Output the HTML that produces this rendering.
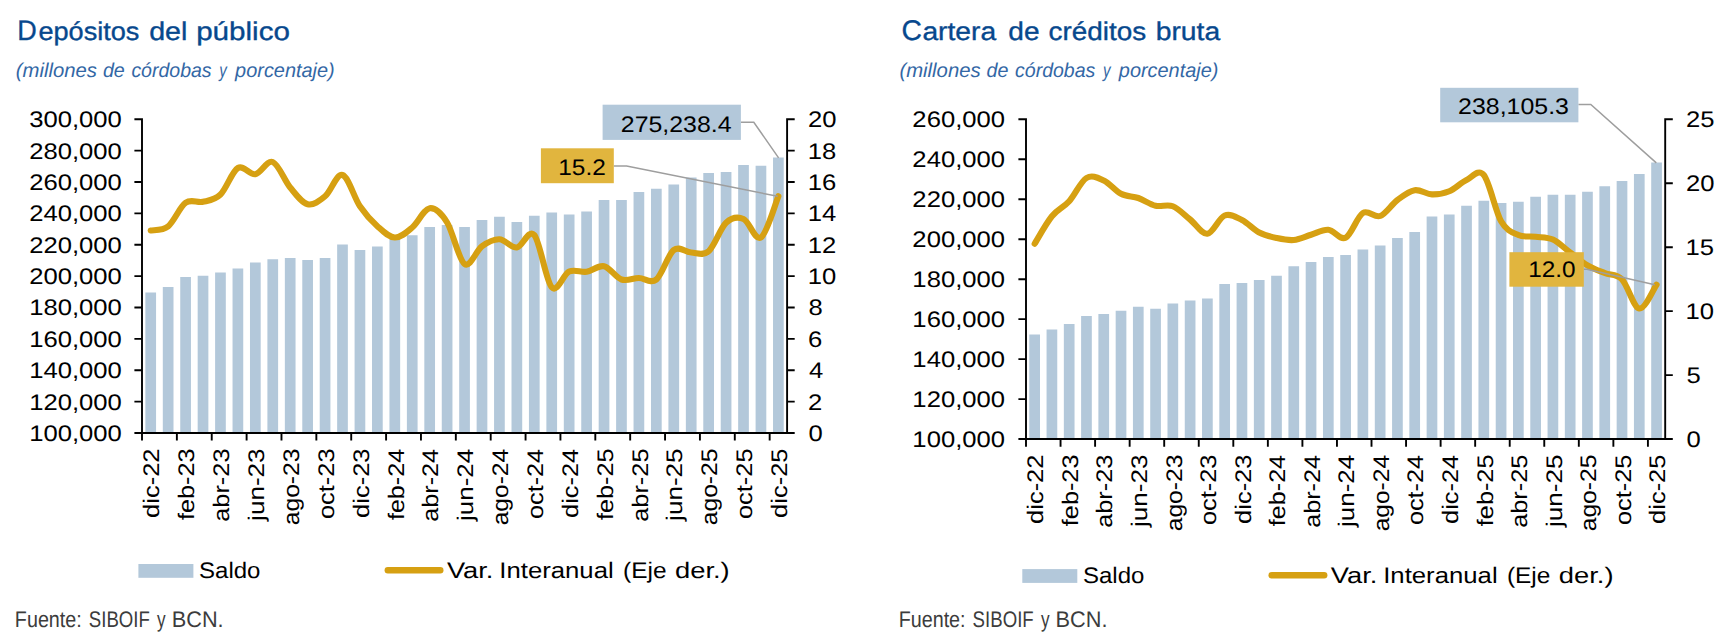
<!DOCTYPE html>
<html lang="es"><head><meta charset="utf-8"><title>Depósitos y cartera</title>
<style>html,body{margin:0;padding:0;background:#fff}svg{display:block}text{font-family:"Liberation Sans",sans-serif;text-rendering:geometricPrecision}</style></head>
<body>
<svg width="1727" height="641" viewBox="0 0 1727 641" font-family='"Liberation Sans", sans-serif'>
<rect width="1727" height="641" fill="#fff"/>
<text x="17.34" y="39.70" font-size="28.5" fill="#07488d" textLength="19.49" lengthAdjust="spacingAndGlyphs" stroke="#07488d" stroke-width="0.35">D</text>
<text x="38.45" y="39.70" font-size="25.5" fill="#07488d" textLength="100.99" lengthAdjust="spacingAndGlyphs" stroke="#07488d" stroke-width="0.35">epósitos</text>
<text x="149.21" y="39.70" font-size="25.5" fill="#07488d" textLength="38.18" lengthAdjust="spacingAndGlyphs" stroke="#07488d" stroke-width="0.35">del</text>
<text x="196.15" y="39.70" font-size="25.5" fill="#07488d" textLength="93.75" lengthAdjust="spacingAndGlyphs" stroke="#07488d" stroke-width="0.35">público</text>
<text x="901.38" y="39.70" font-size="28.5" fill="#07488d" textLength="20.40" lengthAdjust="spacingAndGlyphs" stroke="#07488d" stroke-width="0.35">C</text>
<text x="922.42" y="39.70" font-size="25.5" fill="#07488d" textLength="73.80" lengthAdjust="spacingAndGlyphs" stroke="#07488d" stroke-width="0.35">artera</text>
<text x="1008.32" y="39.70" font-size="25.5" fill="#07488d" textLength="31.21" lengthAdjust="spacingAndGlyphs" stroke="#07488d" stroke-width="0.35">de</text>
<text x="1048.63" y="39.70" font-size="25.5" fill="#07488d" textLength="97.64" lengthAdjust="spacingAndGlyphs" stroke="#07488d" stroke-width="0.35">créditos</text>
<text x="1155.73" y="39.70" font-size="25.5" fill="#07488d" textLength="64.49" lengthAdjust="spacingAndGlyphs" stroke="#07488d" stroke-width="0.35">bruta</text>
<text x="15.75" y="76.70" font-size="20.0" fill="#3367a5" textLength="81.17" lengthAdjust="spacingAndGlyphs" font-style="italic">(millones</text>
<text x="102.88" y="76.70" font-size="20.0" fill="#3367a5" textLength="21.91" lengthAdjust="spacingAndGlyphs" font-style="italic">de</text>
<text x="131.39" y="76.70" font-size="20.0" fill="#3367a5" textLength="80.21" lengthAdjust="spacingAndGlyphs" font-style="italic">córdobas</text>
<text x="219.24" y="76.70" font-size="20.0" fill="#3367a5" textLength="7.52" lengthAdjust="spacingAndGlyphs" font-style="italic">y</text>
<text x="235.12" y="76.70" font-size="20.0" fill="#3367a5" textLength="99.61" lengthAdjust="spacingAndGlyphs" font-style="italic">porcentaje)</text>
<text x="899.45" y="76.70" font-size="20.0" fill="#3367a5" textLength="81.17" lengthAdjust="spacingAndGlyphs" font-style="italic">(millones</text>
<text x="986.58" y="76.70" font-size="20.0" fill="#3367a5" textLength="21.91" lengthAdjust="spacingAndGlyphs" font-style="italic">de</text>
<text x="1015.09" y="76.70" font-size="20.0" fill="#3367a5" textLength="80.21" lengthAdjust="spacingAndGlyphs" font-style="italic">córdobas</text>
<text x="1102.94" y="76.70" font-size="20.0" fill="#3367a5" textLength="7.52" lengthAdjust="spacingAndGlyphs" font-style="italic">y</text>
<text x="1118.82" y="76.70" font-size="20.0" fill="#3367a5" textLength="99.61" lengthAdjust="spacingAndGlyphs" font-style="italic">porcentaje)</text>
<path d="M145.37,433.00V292.50h10.7V433.00zM162.80,433.00V287.00h10.7V433.00zM180.24,433.00V277.00h10.7V433.00zM197.67,433.00V275.75h10.7V433.00zM215.11,433.00V272.50h10.7V433.00zM232.54,433.00V268.50h10.7V433.00zM249.98,433.00V262.50h10.7V433.00zM267.41,433.00V259.25h10.7V433.00zM284.85,433.00V258.00h10.7V433.00zM302.28,433.00V260.00h10.7V433.00zM319.72,433.00V258.00h10.7V433.00zM337.15,433.00V244.50h10.7V433.00zM354.59,433.00V250.00h10.7V433.00zM372.02,433.00V246.50h10.7V433.00zM389.46,433.00V238.00h10.7V433.00zM406.89,433.00V235.25h10.7V433.00zM424.33,433.00V227.00h10.7V433.00zM441.76,433.00V225.00h10.7V433.00zM459.20,433.00V227.00h10.7V433.00zM476.64,433.00V220.00h10.7V433.00zM494.07,433.00V216.75h10.7V433.00zM511.51,433.00V222.00h10.7V433.00zM528.94,433.00V215.75h10.7V433.00zM546.38,433.00V212.50h10.7V433.00zM563.81,433.00V214.50h10.7V433.00zM581.25,433.00V211.50h10.7V433.00zM598.68,433.00V200.00h10.7V433.00zM616.12,433.00V200.00h10.7V433.00zM633.55,433.00V192.00h10.7V433.00zM650.99,433.00V188.75h10.7V433.00zM668.42,433.00V184.50h10.7V433.00zM685.86,433.00V177.50h10.7V433.00zM703.29,433.00V173.00h10.7V433.00zM720.73,433.00V172.00h10.7V433.00zM738.16,433.00V165.00h10.7V433.00zM755.60,433.00V165.75h10.7V433.00zM773.03,433.00V157.50h10.7V433.00z" fill="#b3c8da"/>
<path d="M142.00,118.35V440.60M787.10,118.35V433.95M134.40,433.00H794.70M134.40,119.30H142.00M134.40,150.67H142.00M134.40,182.04H142.00M134.40,213.41H142.00M134.40,244.78H142.00M134.40,276.15H142.00M134.40,307.52H142.00M134.40,338.89H142.00M134.40,370.26H142.00M134.40,401.63H142.00M787.10,119.30H794.70M787.10,150.67H794.70M787.10,182.04H794.70M787.10,213.41H794.70M787.10,244.78H794.70M787.10,276.15H794.70M787.10,307.52H794.70M787.10,338.89H794.70M787.10,370.26H794.70M787.10,401.63H794.70M176.87,433.00V440.60M211.74,433.00V440.60M246.61,433.00V440.60M281.48,433.00V440.60M316.35,433.00V440.60M351.22,433.00V440.60M386.09,433.00V440.60M420.96,433.00V440.60M455.83,433.00V440.60M490.70,433.00V440.60M525.57,433.00V440.60M560.44,433.00V440.60M595.31,433.00V440.60M630.18,433.00V440.60M665.05,433.00V440.60M699.92,433.00V440.60M734.79,433.00V440.60M769.66,433.00V440.60" stroke="#000" stroke-width="1.9" fill="none"/>
<text x="29.19" y="127.20" font-size="22.5" fill="#000" textLength="92.65" lengthAdjust="spacingAndGlyphs">300,000</text>
<text x="29.19" y="158.57" font-size="22.5" fill="#000" textLength="92.65" lengthAdjust="spacingAndGlyphs">280,000</text>
<text x="29.19" y="189.94" font-size="22.5" fill="#000" textLength="92.65" lengthAdjust="spacingAndGlyphs">260,000</text>
<text x="29.19" y="221.31" font-size="22.5" fill="#000" textLength="92.65" lengthAdjust="spacingAndGlyphs">240,000</text>
<text x="29.19" y="252.68" font-size="22.5" fill="#000" textLength="92.65" lengthAdjust="spacingAndGlyphs">220,000</text>
<text x="29.19" y="284.05" font-size="22.5" fill="#000" textLength="92.65" lengthAdjust="spacingAndGlyphs">200,000</text>
<text x="29.19" y="315.42" font-size="22.5" fill="#000" textLength="92.65" lengthAdjust="spacingAndGlyphs">180,000</text>
<text x="29.19" y="346.79" font-size="22.5" fill="#000" textLength="92.65" lengthAdjust="spacingAndGlyphs">160,000</text>
<text x="29.19" y="378.16" font-size="22.5" fill="#000" textLength="92.65" lengthAdjust="spacingAndGlyphs">140,000</text>
<text x="29.19" y="409.53" font-size="22.5" fill="#000" textLength="92.65" lengthAdjust="spacingAndGlyphs">120,000</text>
<text x="29.19" y="440.90" font-size="22.5" fill="#000" textLength="92.65" lengthAdjust="spacingAndGlyphs">100,000</text>
<text x="808.10" y="127.20" font-size="22.5" fill="#000" textLength="28.51" lengthAdjust="spacingAndGlyphs">20</text>
<text x="807.70" y="158.57" font-size="22.5" fill="#000" textLength="28.51" lengthAdjust="spacingAndGlyphs">18</text>
<text x="807.70" y="189.94" font-size="22.5" fill="#000" textLength="28.51" lengthAdjust="spacingAndGlyphs">16</text>
<text x="807.70" y="221.31" font-size="22.5" fill="#000" textLength="28.51" lengthAdjust="spacingAndGlyphs">14</text>
<text x="807.70" y="252.68" font-size="22.5" fill="#000" textLength="28.51" lengthAdjust="spacingAndGlyphs">12</text>
<text x="807.70" y="284.05" font-size="22.5" fill="#000" textLength="28.51" lengthAdjust="spacingAndGlyphs">10</text>
<text x="808.50" y="315.42" font-size="22.5" fill="#000" textLength="14.25" lengthAdjust="spacingAndGlyphs">8</text>
<text x="808.10" y="346.79" font-size="22.5" fill="#000" textLength="14.25" lengthAdjust="spacingAndGlyphs">6</text>
<text x="808.90" y="378.16" font-size="22.5" fill="#000" textLength="14.25" lengthAdjust="spacingAndGlyphs">4</text>
<text x="808.10" y="409.53" font-size="22.5" fill="#000" textLength="14.25" lengthAdjust="spacingAndGlyphs">2</text>
<text x="808.50" y="440.90" font-size="22.5" fill="#000" textLength="14.25" lengthAdjust="spacingAndGlyphs">0</text>
<text transform="translate(159.42,517.90) rotate(-90)" font-size="22.5" fill="#000" textLength="69.43" lengthAdjust="spacingAndGlyphs">dic-22</text>
<text transform="translate(194.29,520.10) rotate(-90)" font-size="22.5" fill="#000" textLength="71.62" lengthAdjust="spacingAndGlyphs">feb-23</text>
<text transform="translate(229.16,521.79) rotate(-90)" font-size="22.5" fill="#000" textLength="73.32" lengthAdjust="spacingAndGlyphs">abr-23</text>
<text transform="translate(264.03,520.89) rotate(-90)" font-size="22.5" fill="#000" textLength="72.44" lengthAdjust="spacingAndGlyphs">jun-23</text>
<text transform="translate(298.90,525.27) rotate(-90)" font-size="22.5" fill="#000" textLength="76.77" lengthAdjust="spacingAndGlyphs">ago-23</text>
<text transform="translate(333.77,518.99) rotate(-90)" font-size="22.5" fill="#000" textLength="70.52" lengthAdjust="spacingAndGlyphs">oct-23</text>
<text transform="translate(368.64,517.90) rotate(-90)" font-size="22.5" fill="#000" textLength="69.43" lengthAdjust="spacingAndGlyphs">dic-23</text>
<text transform="translate(403.51,520.10) rotate(-90)" font-size="22.5" fill="#000" textLength="71.23" lengthAdjust="spacingAndGlyphs">feb-24</text>
<text transform="translate(438.38,521.79) rotate(-90)" font-size="22.5" fill="#000" textLength="72.92" lengthAdjust="spacingAndGlyphs">abr-24</text>
<text transform="translate(473.25,520.89) rotate(-90)" font-size="22.5" fill="#000" textLength="72.04" lengthAdjust="spacingAndGlyphs">jun-24</text>
<text transform="translate(508.12,525.27) rotate(-90)" font-size="22.5" fill="#000" textLength="76.38" lengthAdjust="spacingAndGlyphs">ago-24</text>
<text transform="translate(542.99,518.99) rotate(-90)" font-size="22.5" fill="#000" textLength="70.12" lengthAdjust="spacingAndGlyphs">oct-24</text>
<text transform="translate(577.86,517.89) rotate(-90)" font-size="22.5" fill="#000" textLength="69.02" lengthAdjust="spacingAndGlyphs">dic-24</text>
<text transform="translate(612.73,520.10) rotate(-90)" font-size="22.5" fill="#000" textLength="71.62" lengthAdjust="spacingAndGlyphs">feb-25</text>
<text transform="translate(647.60,521.79) rotate(-90)" font-size="22.5" fill="#000" textLength="73.32" lengthAdjust="spacingAndGlyphs">abr-25</text>
<text transform="translate(682.47,520.89) rotate(-90)" font-size="22.5" fill="#000" textLength="72.44" lengthAdjust="spacingAndGlyphs">jun-25</text>
<text transform="translate(717.34,525.27) rotate(-90)" font-size="22.5" fill="#000" textLength="76.77" lengthAdjust="spacingAndGlyphs">ago-25</text>
<text transform="translate(752.21,518.99) rotate(-90)" font-size="22.5" fill="#000" textLength="70.52" lengthAdjust="spacingAndGlyphs">oct-25</text>
<text transform="translate(787.08,517.90) rotate(-90)" font-size="22.5" fill="#000" textLength="69.43" lengthAdjust="spacingAndGlyphs">dic-25</text>
<path d="M740.9,122.2H753.8L778.6,157.9" stroke="#9e9e9e" stroke-width="1.5" fill="none"/>
<rect x="602.6" y="104.7" width="138.3" height="35.2" fill="#b3c8da"/>
<text x="620.83" y="131.60" font-size="22.5" fill="#000" textLength="110.69" lengthAdjust="spacingAndGlyphs">275,238.4</text>
<path d="M150.72,230.50C153.62,229.80 162.34,230.92 168.15,226.30C173.96,221.68 179.78,206.88 185.59,202.80C191.40,198.72 197.21,203.18 203.02,201.80C208.83,200.42 214.65,200.13 220.46,194.50C226.27,188.87 232.08,171.38 237.89,168.00C243.70,164.62 249.52,175.25 255.33,174.25C261.14,173.25 266.95,159.79 272.76,162.00C278.58,164.21 284.39,180.46 290.20,187.50C296.01,194.54 301.82,202.79 307.63,204.25C313.45,205.71 319.26,201.12 325.07,196.25C330.88,191.38 336.69,173.33 342.50,175.00C348.32,176.67 354.13,197.71 359.94,206.25C365.75,214.79 371.56,221.04 377.37,226.25C383.19,231.46 389.00,237.29 394.81,237.50C400.62,237.71 406.43,232.38 412.24,227.50C418.06,222.62 423.87,209.08 429.68,208.25C435.49,207.42 441.30,213.21 447.11,222.50C452.93,231.79 458.74,260.04 464.55,264.00C470.36,267.96 476.17,250.38 481.99,246.25C487.80,242.12 493.61,239.04 499.42,239.25C505.23,239.46 511.04,248.21 516.86,247.50C522.67,246.79 528.48,228.38 534.29,235.00C540.10,241.62 545.91,281.17 551.73,287.25C557.54,293.33 563.35,274.08 569.16,271.50C574.97,268.92 580.78,272.62 586.60,271.75C592.41,270.88 598.22,264.96 604.03,266.25C609.84,267.54 615.65,277.54 621.47,279.50C627.28,281.46 633.09,278.00 638.90,278.00C644.71,278.00 650.52,284.17 656.34,279.50C662.15,274.83 667.96,254.50 673.77,250.00C679.58,245.50 685.40,252.29 691.21,252.50C697.02,252.71 702.83,256.20 708.64,251.25C714.45,246.30 720.27,228.18 726.08,222.80C731.89,217.43 737.70,216.55 743.51,219.00C749.32,221.45 755.14,241.29 760.95,237.50C766.76,233.71 775.48,203.12 778.38,196.25" stroke="#d6a012" stroke-width="6.1" fill="none" stroke-linecap="round" stroke-linejoin="round"/>
<path d="M613.8,166.0H626.6L777.7,196.3" stroke="#9e9e9e" stroke-width="1.5" fill="none"/>
<rect x="540.9" y="148.3" width="72.9" height="34.9" fill="#e1b53e"/>
<text x="558.27" y="174.50" font-size="22.5" fill="#000" textLength="47.52" lengthAdjust="spacingAndGlyphs">15.2</text>
<path d="M1029.29,439.05V334.60h10.7V439.05zM1046.56,439.05V329.40h10.7V439.05zM1063.84,439.05V324.00h10.7V439.05zM1081.11,439.05V316.00h10.7V439.05zM1098.39,439.05V314.00h10.7V439.05zM1115.67,439.05V310.70h10.7V439.05zM1132.94,439.05V306.75h10.7V439.05zM1150.22,439.05V308.75h10.7V439.05zM1167.49,439.05V303.50h10.7V439.05zM1184.77,439.05V300.40h10.7V439.05zM1202.04,439.05V298.40h10.7V439.05zM1219.32,439.05V284.00h10.7V439.05zM1236.60,439.05V283.00h10.7V439.05zM1253.87,439.05V280.00h10.7V439.05zM1271.15,439.05V275.75h10.7V439.05zM1288.42,439.05V266.25h10.7V439.05zM1305.70,439.05V262.00h10.7V439.05zM1322.97,439.05V256.90h10.7V439.05zM1340.25,439.05V255.00h10.7V439.05zM1357.53,439.05V249.60h10.7V439.05zM1374.80,439.05V245.40h10.7V439.05zM1392.08,439.05V238.10h10.7V439.05zM1409.35,439.05V231.90h10.7V439.05zM1426.63,439.05V216.60h10.7V439.05zM1443.90,439.05V214.40h10.7V439.05zM1461.18,439.05V205.75h10.7V439.05zM1478.46,439.05V200.75h10.7V439.05zM1495.73,439.05V203.00h10.7V439.05zM1513.01,439.05V201.75h10.7V439.05zM1530.28,439.05V196.75h10.7V439.05zM1547.56,439.05V194.75h10.7V439.05zM1564.83,439.05V194.75h10.7V439.05zM1582.11,439.05V191.75h10.7V439.05zM1599.39,439.05V186.25h10.7V439.05zM1616.66,439.05V181.00h10.7V439.05zM1633.94,439.05V174.00h10.7V439.05zM1651.21,439.05V162.50h10.7V439.05z" fill="#b3c8da"/>
<path d="M1026.00,118.35V446.65M1665.20,118.35V440.00M1018.40,439.05H1672.80M1018.40,119.30H1026.00M1018.40,159.27H1026.00M1018.40,199.24H1026.00M1018.40,239.21H1026.00M1018.40,279.18H1026.00M1018.40,319.14H1026.00M1018.40,359.11H1026.00M1018.40,399.08H1026.00M1665.20,119.30H1672.80M1665.20,183.25H1672.80M1665.20,247.20H1672.80M1665.20,311.15H1672.80M1665.20,375.10H1672.80M1060.55,439.05V446.65M1095.10,439.05V446.65M1129.65,439.05V446.65M1164.21,439.05V446.65M1198.76,439.05V446.65M1233.31,439.05V446.65M1267.86,439.05V446.65M1302.41,439.05V446.65M1336.96,439.05V446.65M1371.51,439.05V446.65M1406.06,439.05V446.65M1440.62,439.05V446.65M1475.17,439.05V446.65M1509.72,439.05V446.65M1544.27,439.05V446.65M1578.82,439.05V446.65M1613.37,439.05V446.65M1647.92,439.05V446.65" stroke="#000" stroke-width="1.9" fill="none"/>
<text x="912.39" y="127.20" font-size="22.5" fill="#000" textLength="92.65" lengthAdjust="spacingAndGlyphs">260,000</text>
<text x="912.39" y="167.17" font-size="22.5" fill="#000" textLength="92.65" lengthAdjust="spacingAndGlyphs">240,000</text>
<text x="912.39" y="207.14" font-size="22.5" fill="#000" textLength="92.65" lengthAdjust="spacingAndGlyphs">220,000</text>
<text x="912.39" y="247.11" font-size="22.5" fill="#000" textLength="92.65" lengthAdjust="spacingAndGlyphs">200,000</text>
<text x="912.39" y="287.07" font-size="22.5" fill="#000" textLength="92.65" lengthAdjust="spacingAndGlyphs">180,000</text>
<text x="912.39" y="327.04" font-size="22.5" fill="#000" textLength="92.65" lengthAdjust="spacingAndGlyphs">160,000</text>
<text x="912.39" y="367.01" font-size="22.5" fill="#000" textLength="92.65" lengthAdjust="spacingAndGlyphs">140,000</text>
<text x="912.39" y="406.98" font-size="22.5" fill="#000" textLength="92.65" lengthAdjust="spacingAndGlyphs">120,000</text>
<text x="912.39" y="446.95" font-size="22.5" fill="#000" textLength="92.65" lengthAdjust="spacingAndGlyphs">100,000</text>
<text x="1686.00" y="127.20" font-size="22.5" fill="#000" textLength="28.51" lengthAdjust="spacingAndGlyphs">25</text>
<text x="1686.00" y="191.15" font-size="22.5" fill="#000" textLength="28.51" lengthAdjust="spacingAndGlyphs">20</text>
<text x="1685.60" y="255.10" font-size="22.5" fill="#000" textLength="28.51" lengthAdjust="spacingAndGlyphs">15</text>
<text x="1685.60" y="319.05" font-size="22.5" fill="#000" textLength="28.51" lengthAdjust="spacingAndGlyphs">10</text>
<text x="1686.40" y="383.00" font-size="22.5" fill="#000" textLength="14.25" lengthAdjust="spacingAndGlyphs">5</text>
<text x="1686.40" y="446.95" font-size="22.5" fill="#000" textLength="14.25" lengthAdjust="spacingAndGlyphs">0</text>
<text transform="translate(1043.34,523.95) rotate(-90)" font-size="22.5" fill="#000" textLength="69.43" lengthAdjust="spacingAndGlyphs">dic-22</text>
<text transform="translate(1077.89,526.15) rotate(-90)" font-size="22.5" fill="#000" textLength="71.62" lengthAdjust="spacingAndGlyphs">feb-23</text>
<text transform="translate(1112.44,527.84) rotate(-90)" font-size="22.5" fill="#000" textLength="73.32" lengthAdjust="spacingAndGlyphs">abr-23</text>
<text transform="translate(1146.99,526.94) rotate(-90)" font-size="22.5" fill="#000" textLength="72.44" lengthAdjust="spacingAndGlyphs">jun-23</text>
<text transform="translate(1181.54,531.32) rotate(-90)" font-size="22.5" fill="#000" textLength="76.77" lengthAdjust="spacingAndGlyphs">ago-23</text>
<text transform="translate(1216.09,525.04) rotate(-90)" font-size="22.5" fill="#000" textLength="70.52" lengthAdjust="spacingAndGlyphs">oct-23</text>
<text transform="translate(1250.65,523.95) rotate(-90)" font-size="22.5" fill="#000" textLength="69.43" lengthAdjust="spacingAndGlyphs">dic-23</text>
<text transform="translate(1285.20,526.15) rotate(-90)" font-size="22.5" fill="#000" textLength="71.23" lengthAdjust="spacingAndGlyphs">feb-24</text>
<text transform="translate(1319.75,527.84) rotate(-90)" font-size="22.5" fill="#000" textLength="72.92" lengthAdjust="spacingAndGlyphs">abr-24</text>
<text transform="translate(1354.30,526.94) rotate(-90)" font-size="22.5" fill="#000" textLength="72.04" lengthAdjust="spacingAndGlyphs">jun-24</text>
<text transform="translate(1388.85,531.32) rotate(-90)" font-size="22.5" fill="#000" textLength="76.38" lengthAdjust="spacingAndGlyphs">ago-24</text>
<text transform="translate(1423.40,525.04) rotate(-90)" font-size="22.5" fill="#000" textLength="70.12" lengthAdjust="spacingAndGlyphs">oct-24</text>
<text transform="translate(1457.95,523.94) rotate(-90)" font-size="22.5" fill="#000" textLength="69.02" lengthAdjust="spacingAndGlyphs">dic-24</text>
<text transform="translate(1492.51,526.15) rotate(-90)" font-size="22.5" fill="#000" textLength="71.62" lengthAdjust="spacingAndGlyphs">feb-25</text>
<text transform="translate(1527.06,527.84) rotate(-90)" font-size="22.5" fill="#000" textLength="73.32" lengthAdjust="spacingAndGlyphs">abr-25</text>
<text transform="translate(1561.61,526.94) rotate(-90)" font-size="22.5" fill="#000" textLength="72.44" lengthAdjust="spacingAndGlyphs">jun-25</text>
<text transform="translate(1596.16,531.32) rotate(-90)" font-size="22.5" fill="#000" textLength="76.77" lengthAdjust="spacingAndGlyphs">ago-25</text>
<text transform="translate(1630.71,525.04) rotate(-90)" font-size="22.5" fill="#000" textLength="70.52" lengthAdjust="spacingAndGlyphs">oct-25</text>
<text transform="translate(1665.26,523.95) rotate(-90)" font-size="22.5" fill="#000" textLength="69.43" lengthAdjust="spacingAndGlyphs">dic-25</text>
<path d="M1578.4,104.5H1590.8L1656.3,162.9" stroke="#9e9e9e" stroke-width="1.5" fill="none"/>
<rect x="1440.2" y="87.8" width="138.2" height="34.5" fill="#b3c8da"/>
<text x="1458.13" y="113.70" font-size="22.5" fill="#000" textLength="110.78" lengthAdjust="spacingAndGlyphs">238,105.3</text>
<path d="M1034.64,243.75C1037.52,239.17 1046.15,223.33 1051.91,216.25C1057.67,209.17 1063.43,207.62 1069.19,201.25C1074.95,194.88 1080.71,181.46 1086.46,178.00C1092.22,174.54 1097.98,177.88 1103.74,180.50C1109.50,183.12 1115.26,190.83 1121.02,193.75C1126.77,196.67 1132.53,196.00 1138.29,198.00C1144.05,200.00 1149.81,204.38 1155.57,205.75C1161.33,207.12 1167.08,203.96 1172.84,206.25C1178.60,208.54 1184.36,214.92 1190.12,219.50C1195.88,224.08 1201.64,234.42 1207.39,233.75C1213.15,233.08 1218.91,217.79 1224.67,215.50C1230.43,213.21 1236.19,217.17 1241.95,220.00C1247.70,222.83 1253.46,229.50 1259.22,232.50C1264.98,235.50 1270.74,236.75 1276.50,238.00C1282.26,239.25 1288.01,240.54 1293.77,240.00C1299.53,239.46 1305.29,236.46 1311.05,234.75C1316.81,233.04 1322.57,229.25 1328.32,229.75C1334.08,230.25 1339.84,240.54 1345.60,237.75C1351.36,234.96 1357.12,216.62 1362.88,213.00C1368.63,209.38 1374.39,218.17 1380.15,216.00C1385.91,213.83 1391.67,204.29 1397.43,200.00C1403.19,195.71 1408.94,191.18 1414.70,190.25C1420.46,189.32 1426.22,194.23 1431.98,194.40C1437.74,194.57 1443.50,193.65 1449.25,191.25C1455.01,188.85 1460.77,182.71 1466.53,180.00C1472.29,177.29 1478.05,168.12 1483.81,175.00C1489.56,181.88 1495.32,211.25 1501.08,221.25C1506.84,231.25 1512.60,232.42 1518.36,235.00C1524.12,237.58 1529.87,236.00 1535.63,236.75C1541.39,237.50 1547.15,236.88 1552.91,239.50C1558.67,242.12 1564.43,248.20 1570.18,252.50C1575.94,256.80 1581.70,261.88 1587.46,265.30C1593.22,268.72 1598.98,270.67 1604.74,273.00C1610.49,275.33 1616.25,273.38 1622.01,279.30C1627.77,285.22 1633.53,307.62 1639.29,308.50C1645.05,309.38 1653.68,288.58 1656.56,284.60" stroke="#d6a012" stroke-width="6.1" fill="none" stroke-linecap="round" stroke-linejoin="round"/>
<path d="M1583.8,269.3H1587L1654.8,284.8" stroke="#9e9e9e" stroke-width="1.5" fill="none"/>
<rect x="1509.4" y="252.2" width="74.4" height="34.5" fill="#e1b53e"/>
<text x="1528.28" y="277.30" font-size="22.5" fill="#000" textLength="47.33" lengthAdjust="spacingAndGlyphs">12.0</text>
<rect x="138.40" y="564.00" width="55" height="13.8" fill="#b3c8da"/>
<text x="199.05" y="577.50" font-size="22.5" fill="#000" textLength="61.42" lengthAdjust="spacingAndGlyphs">Saldo</text>
<path d="M387.80,570.20H440.30" stroke="#d6a012" stroke-width="6.4" stroke-linecap="round"/>
<text x="446.90" y="577.50" font-size="22.5" fill="#000" textLength="46.57" lengthAdjust="spacingAndGlyphs">Var.</text>
<text x="499.29" y="577.50" font-size="22.5" fill="#000" textLength="114.41" lengthAdjust="spacingAndGlyphs">Interanual</text>
<text x="623.06" y="577.50" font-size="22.5" fill="#000" textLength="43.43" lengthAdjust="spacingAndGlyphs">(Eje</text>
<text x="674.94" y="577.50" font-size="22.5" fill="#000" textLength="54.77" lengthAdjust="spacingAndGlyphs">der.)</text>
<rect x="1022.30" y="569.10" width="55" height="13.8" fill="#b3c8da"/>
<text x="1082.95" y="582.60" font-size="22.5" fill="#000" textLength="61.42" lengthAdjust="spacingAndGlyphs">Saldo</text>
<path d="M1271.70,575.30H1324.20" stroke="#d6a012" stroke-width="6.4" stroke-linecap="round"/>
<text x="1330.80" y="582.60" font-size="22.5" fill="#000" textLength="46.57" lengthAdjust="spacingAndGlyphs">Var.</text>
<text x="1383.19" y="582.60" font-size="22.5" fill="#000" textLength="114.41" lengthAdjust="spacingAndGlyphs">Interanual</text>
<text x="1506.96" y="582.60" font-size="22.5" fill="#000" textLength="43.43" lengthAdjust="spacingAndGlyphs">(Eje</text>
<text x="1558.84" y="582.60" font-size="22.5" fill="#000" textLength="54.77" lengthAdjust="spacingAndGlyphs">der.)</text>
<text x="14.86" y="626.70" font-size="22.6" fill="#3c3c3c" textLength="66.92" lengthAdjust="spacingAndGlyphs">Fuente:</text>
<text x="88.82" y="626.70" font-size="22.6" fill="#3c3c3c" textLength="61.09" lengthAdjust="spacingAndGlyphs">SIBOIF</text>
<text x="157.10" y="626.70" font-size="22.6" fill="#3c3c3c" textLength="8.60" lengthAdjust="spacingAndGlyphs">y</text>
<text x="171.80" y="626.70" font-size="22.6" fill="#3c3c3c" textLength="51.86" lengthAdjust="spacingAndGlyphs">BCN.</text>
<text x="898.66" y="626.70" font-size="22.6" fill="#3c3c3c" textLength="66.92" lengthAdjust="spacingAndGlyphs">Fuente:</text>
<text x="972.62" y="626.70" font-size="22.6" fill="#3c3c3c" textLength="61.09" lengthAdjust="spacingAndGlyphs">SIBOIF</text>
<text x="1040.90" y="626.70" font-size="22.6" fill="#3c3c3c" textLength="8.60" lengthAdjust="spacingAndGlyphs">y</text>
<text x="1055.60" y="626.70" font-size="22.6" fill="#3c3c3c" textLength="51.86" lengthAdjust="spacingAndGlyphs">BCN.</text>
</svg>
</body></html>
